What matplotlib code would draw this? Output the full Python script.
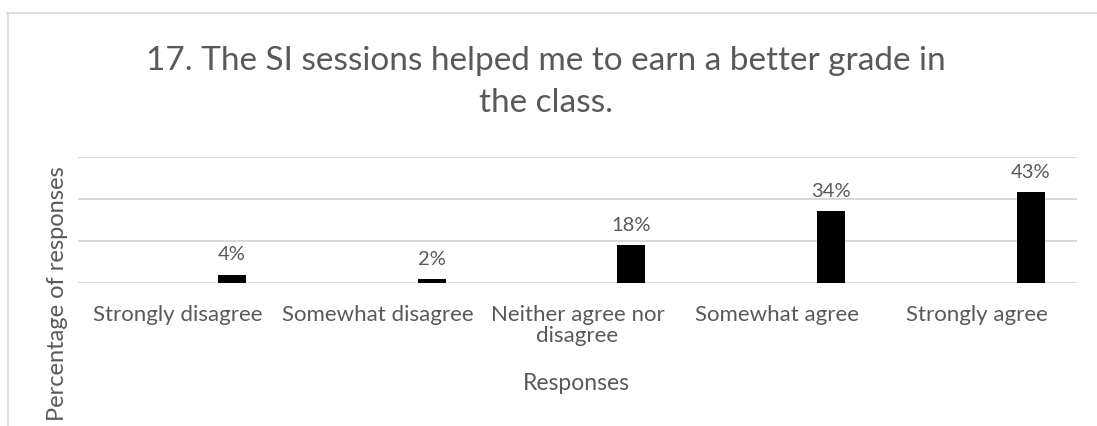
import matplotlib
matplotlib.use("Agg")
import matplotlib.pyplot as plt
from matplotlib.lines import Line2D
import numpy as np

# Survey item 17 results
categories = ["Strongly disagree", "Somewhat disagree", "Neither agree nor\ndisagree",
              "Somewhat agree", "Strongly agree"]
percentages = [4, 2, 18, 34, 43]
value_labels = ["4%", "2%", "18%", "34%", "43%"]

title = "17. The SI sessions helped me to earn a better grade in\nthe class."
x_title = "Responses"
y_title = "Percentage of responses"

FONT = ["Lato", "DejaVu Sans"]
TEXT = "#595959"
GRID = "#d9d9d9"

W, H, DPI = 1097, 426, 100
fig = plt.figure(figsize=(W / DPI, H / DPI), dpi=DPI)

def fx(px):
    return px / W

def fy(py):
    return 1 - py / H

# chart frame (top and left edges visible)
fig.add_artist(Line2D([fx(7), 1.0], [fy(12.5), fy(12.5)], color=GRID, lw=1.2,
                      transform=fig.transFigure))
fig.add_artist(Line2D([fx(7.5), fx(7.5)], [0.0, fy(12.5)], color=GRID, lw=1.2,
                      transform=fig.transFigure))

ax = fig.add_axes([fx(78), fy(283), fx(1077) - fx(78), fy(156.7) - fy(283)])

x = np.arange(len(categories))
bar_offset = 0.27
bar_width = 0.14
vals = np.array(percentages) / 100.0
bars = ax.bar(x + bar_offset, vals, width=bar_width, color="black", zorder=3)

for b, lab in zip(bars, value_labels):
    ax.annotate(lab, (b.get_x() + b.get_width() / 2, b.get_height()),
                xytext=(0, 8), textcoords="offset points", ha="center", va="bottom",
                fontsize=14.5, color=TEXT, family=FONT)

ax.set_xlim(-0.5, len(categories) - 0.5)
ax.set_ylim(0, 0.6)
ax.set_yticks([0, 0.2, 0.4, 0.6])
ax.yaxis.grid(True, color=GRID, lw=1.5)
ax.set_axisbelow(True)
ax.tick_params(axis="y", left=False, labelleft=False)
ax.tick_params(axis="x", bottom=False, pad=12)
ax.set_xticks(x)
ax.set_xticklabels(categories, fontsize=16, color=TEXT, family=FONT, linespacing=1.1)
for s in ax.spines.values():
    s.set_visible(False)

fig.text(fx(576), fy(383), x_title, ha="center", va="center", fontsize=16.5,
         color=TEXT, family=FONT)
fig.text(fx(57), fy(166), y_title, ha="center", va="top", rotation=90, fontsize=17,
         color=TEXT, family=FONT)
fig.text(fx(546), fy(82), title, ha="center", va="center", fontsize=24,
         color=TEXT, family=FONT, linespacing=1.5)

fig.savefig("out.png", dpi=DPI)
